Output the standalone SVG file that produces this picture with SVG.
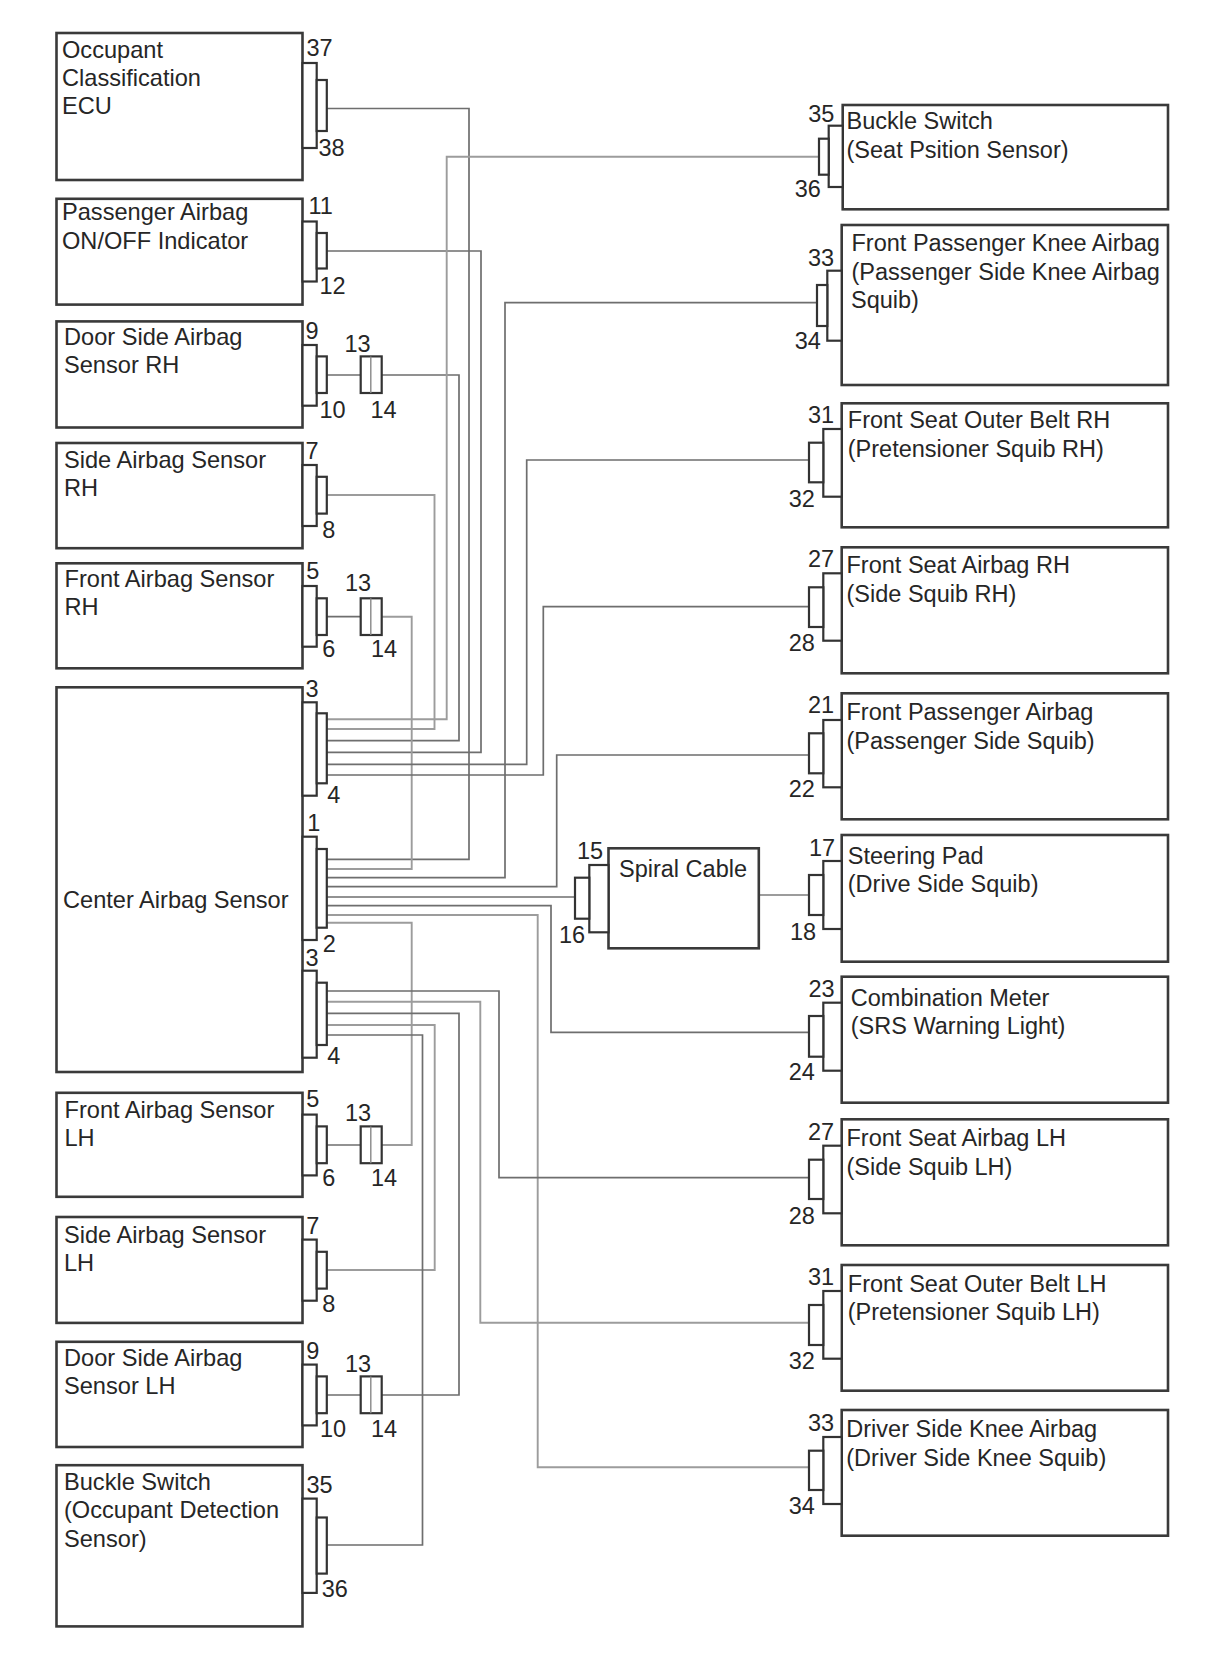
<svg xmlns="http://www.w3.org/2000/svg" width="1210" height="1668" viewBox="0 0 1210 1668">
<style>
.b{fill:#fff;stroke:#3a3a3a;stroke-width:2.6}
.c{fill:#fff;stroke:#333;stroke-width:2.2}
.m{fill:none;stroke:#888;stroke-width:1.4}
.w{fill:none;stroke:#6e6e6e;stroke-width:1.7}
.l{fill:none;stroke:#9c9c9c;stroke-width:1.9}
text{font-family:"Liberation Sans",Arial,sans-serif;fill:#262626}
.t{font-size:23.6px}
.r .t{font-size:23.5px}
.n{font-size:23.5px}
</style>
<rect width="1210" height="1668" fill="#fff"/>
<g id="connectors">
<polyline class="w" points="327,108.5 469,108.5 469,859.3 327,859.3"/>
<polyline class="w" points="327,251 481,251 481,752.3 327,752.3"/>
<polyline class="w" points="381.7,375 459,375 459,740.7 327,740.7"/>
<line class="w" x1="327" y1="375" x2="360.7" y2="375"/>
<polyline class="l" points="327,495 434.5,495 434.5,729 327,729"/>
<polyline class="l" points="381.7,616.7 411.7,616.7 411.7,869 327,869"/>
<line class="w" x1="327" y1="616.7" x2="360.7" y2="616.7"/>
<polyline class="l" points="819,156.7 446.7,156.7 446.7,719.3 327,719.3"/>
<polyline class="w" points="817,302.7 505,302.7 505,877.7 327,877.7"/>
<polyline class="w" points="809,460 526.7,460 526.7,764.3 327,764.3"/>
<polyline class="w" points="809,606.7 543.3,606.7 543.3,775 327,775"/>
<polyline class="w" points="809,755 556.7,755 556.7,886.7 327,886.7"/>
<line class="w" x1="327" y1="897" x2="575" y2="897"/>
<line class="l" x1="758.8" y1="895" x2="809" y2="895"/>
<polyline class="w" points="327,905.7 551,905.7 551,1032.3 809,1032.3"/>
<polyline class="l" points="327,915 537.7,915 537.7,1467.3 809,1467.3"/>
<polyline class="l" points="327,922.7 411.7,922.7 411.7,1145 381.7,1145"/>
<line class="w" x1="327" y1="1145" x2="360.7" y2="1145"/>
<polyline class="w" points="327,991 499,991 499,1177.7 809,1177.7"/>
<polyline class="l" points="327,1001.7 480.3,1001.7 480.3,1322.7 809,1322.7"/>
<polyline class="w" points="327,1013.3 459,1013.3 459,1395 381.7,1395"/>
<line class="w" x1="327" y1="1395" x2="360.7" y2="1395"/>
<polyline class="l" points="327,1025 434.7,1025 434.7,1270 327,1270"/>
<polyline class="w" points="327,1035 422.5,1035 422.5,1545 327,1545"/>
</g>
<g id="occupant-ecu">
<rect class="b" x="56.5" y="33" width="246" height="147"/>
<rect class="c" x="302.5" y="63" width="14.2" height="85"/>
<rect class="c" x="316.7" y="80" width="10.1" height="51"/>
<text class="t" x="62" y="57.5">Occupant</text><text class="t" x="62" y="85.7">Classification</text><text class="t" x="62" y="113.6">ECU</text>
<text class="n" x="306.5" y="55.7">37</text><text class="n" x="318.5" y="156.4">38</text>
</g>
<g id="passenger-indicator">
<rect class="b" x="56.5" y="198.8" width="246" height="105.8"/>
<rect class="c" x="302.5" y="221.5" width="14.2" height="60"/>
<rect class="c" x="316.7" y="233" width="10.1" height="35.5"/>
<text class="t" x="62" y="220.2">Passenger Airbag</text><text class="t" x="62" y="248.5">ON/OFF Indicator</text>
<text class="n" x="308.5" y="214">11</text><text class="n" x="319.5" y="293.6">12</text>
</g>
<g id="door-sensor-rh">
<rect class="b" x="56.5" y="321.4" width="246" height="106.1"/>
<rect class="c" x="302.5" y="345" width="14.2" height="60.7"/>
<rect class="c" x="316.7" y="356.4" width="10.1" height="36.6"/>
<rect class="c" x="360.7" y="356.4" width="21" height="36.6"/>
<line class="m" x1="370.8" y1="356.4" x2="370.8" y2="393"/>
<text class="t" x="64" y="344.6">Door Side Airbag</text><text class="t" x="64" y="372.5">Sensor RH</text>
<text class="n" x="305.5" y="339.3">9</text><text class="n" x="344.5" y="351.8">13</text><text class="n" x="319.5" y="417.9">10</text><text class="n" x="370.5" y="417.9">14</text>
</g>
<g id="side-sensor-rh">
<rect class="b" x="56.5" y="443" width="246" height="105.2"/>
<rect class="c" x="302.5" y="465" width="14.2" height="61"/>
<rect class="c" x="316.7" y="476.8" width="10.1" height="36.8"/>
<text class="t" x="64" y="467.9">Side Airbag Sensor</text><text class="t" x="64" y="495.7">RH</text>
<text class="n" x="305.5" y="459">7</text><text class="n" x="322.2" y="538">8</text>
</g>
<g id="front-sensor-rh">
<rect class="b" x="56.5" y="563.3" width="246" height="105"/>
<rect class="c" x="302.5" y="586" width="14.2" height="60.7"/>
<rect class="c" x="316.7" y="598.3" width="10.1" height="36.7"/>
<rect class="c" x="360.7" y="598.3" width="21" height="36.7"/>
<line class="m" x1="370.8" y1="598.3" x2="370.8" y2="635"/>
<text class="t" x="64.5" y="587.3">Front Airbag Sensor</text><text class="t" x="64.5" y="615.2">RH</text>
<text class="n" x="306.2" y="579.3">5</text><text class="n" x="345" y="591.2">13</text><text class="n" x="322.2" y="657.3">6</text><text class="n" x="371" y="657.3">14</text>
</g>
<g id="center-sensor">
<rect class="b" x="56.5" y="687.3" width="246" height="384.7"/>
<rect class="c" x="302.5" y="702.3" width="14.2" height="93.4"/>
<rect class="c" x="316.7" y="713.3" width="10.1" height="70"/>
<rect class="c" x="302.5" y="836.7" width="14.2" height="103.3"/>
<rect class="c" x="316.7" y="849" width="10.1" height="78.7"/>
<rect class="c" x="302.5" y="970.7" width="14.2" height="87"/>
<rect class="c" x="316.7" y="982.7" width="10.1" height="62.3"/>
<text class="t" x="63" y="908">Center Airbag Sensor</text>
<text class="n" x="305.5" y="697.3">3</text><text class="n" x="327.2" y="803.3">4</text><text class="n" x="307.2" y="830.7">1</text><text class="n" x="322.8" y="951.7">2</text><text class="n" x="305.5" y="966">3</text><text class="n" x="327.2" y="1064.3">4</text>
</g>
<g id="front-sensor-lh">
<rect class="b" x="56.5" y="1092.8" width="246" height="104"/>
<rect class="c" x="302.5" y="1114.6" width="14.2" height="60.8"/>
<rect class="c" x="316.7" y="1126.4" width="10.1" height="36.8"/>
<rect class="c" x="360.7" y="1126.4" width="21" height="36.8"/>
<line class="m" x1="370.8" y1="1126.4" x2="370.8" y2="1163.2"/>
<text class="t" x="64.5" y="1117.5">Front Airbag Sensor</text><text class="t" x="64.5" y="1145.5">LH</text>
<text class="n" x="306.2" y="1107.4">5</text><text class="n" x="345" y="1121.3">13</text><text class="n" x="322.2" y="1185.7">6</text><text class="n" x="371" y="1185.7">14</text>
</g>
<g id="side-sensor-lh">
<rect class="b" x="56.5" y="1217" width="246" height="105.9"/>
<rect class="c" x="302.5" y="1239.6" width="14.2" height="61.1"/>
<rect class="c" x="316.7" y="1251.8" width="10.1" height="36.8"/>
<text class="t" x="64" y="1242.9">Side Airbag Sensor</text><text class="t" x="64" y="1270.5">LH</text>
<text class="n" x="306.2" y="1234.3">7</text><text class="n" x="322.2" y="1312.4">8</text>
</g>
<g id="door-sensor-lh">
<rect class="b" x="56.5" y="1341.8" width="246" height="105.2"/>
<rect class="c" x="302.5" y="1364.6" width="14.2" height="60.8"/>
<rect class="c" x="316.7" y="1376.4" width="10.1" height="36.8"/>
<rect class="c" x="360.7" y="1376.4" width="21" height="36.8"/>
<line class="m" x1="370.8" y1="1376.4" x2="370.8" y2="1413.2"/>
<text class="t" x="64" y="1366.4">Door Side Airbag</text><text class="t" x="64" y="1394.3">Sensor LH</text>
<text class="n" x="306.2" y="1359.3">9</text><text class="n" x="345" y="1372.4">13</text><text class="n" x="320" y="1437">10</text><text class="n" x="371" y="1437">14</text>
</g>
<g id="buckle-switch-left">
<rect class="b" x="56.5" y="1465.2" width="246" height="161.2"/>
<rect class="c" x="302.5" y="1498.6" width="14.2" height="94.3"/>
<rect class="c" x="316.7" y="1517.5" width="10.1" height="56.1"/>
<text class="t" x="64" y="1490">Buckle Switch</text><text class="t" x="64" y="1518">(Occupant Detection</text><text class="t" x="64" y="1546.5">Sensor)</text>
<text class="n" x="306.5" y="1493.1">35</text><text class="n" x="321.7" y="1597">36</text>
</g>
<g id="spiral-cable" class="r">
<rect class="b" x="608.5" y="848.3" width="150.3" height="100"/>
<rect class="c" x="589.3" y="865" width="19.2" height="67.3"/>
<rect class="c" x="575" y="877.7" width="14.3" height="41"/>
<text class="t" x="619" y="876.7">Spiral Cable</text>
<text class="n" x="577" y="859">15</text><text class="n" x="559" y="942.7">16</text>
</g>
<g id="buckle-switch-right" class="r">
<rect class="b" x="842.7" y="105" width="325.3" height="104.3"/>
<rect class="c" x="828.7" y="125.7" width="14" height="61.3"/>
<rect class="c" x="819" y="138.7" width="9.7" height="36"/>
<text class="t" x="846.5" y="129.3">Buckle Switch</text><text class="t" x="846.5" y="158">(Seat Psition Sensor)</text>
<text class="n" x="808.3" y="121.7">35</text><text class="n" x="794.7" y="196.7">36</text>
</g>
<g id="passenger-knee" class="r">
<rect class="b" x="841.7" y="225" width="326.3" height="160"/>
<rect class="c" x="827.3" y="270.7" width="14.4" height="70"/>
<rect class="c" x="817" y="285" width="10.3" height="41"/>
<text class="t" x="851.5" y="251">Front Passenger Knee Airbag</text><text class="t" x="851.5" y="279.5">(Passenger Side Knee Airbag</text><text class="t" x="851" y="307.8">Squib)</text>
<text class="n" x="808" y="265.7">33</text><text class="n" x="794.7" y="349.3">34</text>
</g>
<g id="belt-rh" class="r">
<rect class="b" x="841.7" y="403.3" width="326.3" height="124"/>
<rect class="c" x="823.3" y="429" width="18.4" height="67.7"/>
<rect class="c" x="809" y="442.7" width="14.3" height="39.6"/>
<text class="t" x="847.8" y="428.3">Front Seat Outer Belt RH</text><text class="t" x="847.8" y="457">(Pretensioner Squib RH)</text>
<text class="n" x="808" y="423.3">31</text><text class="n" x="788.7" y="506.7">32</text>
</g>
<g id="seat-airbag-rh" class="r">
<rect class="b" x="841.7" y="547.3" width="326.3" height="126"/>
<rect class="c" x="823.3" y="573.3" width="18.4" height="67.4"/>
<rect class="c" x="809" y="587.3" width="14.3" height="39.7"/>
<text class="t" x="846.5" y="573.3">Front Seat Airbag RH</text><text class="t" x="846.5" y="602">(Side Squib RH)</text>
<text class="n" x="808" y="567.3">27</text><text class="n" x="788.7" y="651.3">28</text>
</g>
<g id="passenger-airbag" class="r">
<rect class="b" x="841.7" y="693.3" width="326.3" height="126"/>
<rect class="c" x="823.3" y="720" width="18.4" height="67.3"/>
<rect class="c" x="809" y="733.3" width="14.3" height="40"/>
<text class="t" x="846.5" y="720">Front Passenger Airbag</text><text class="t" x="846.5" y="748.5">(Passenger Side Squib)</text>
<text class="n" x="808" y="713.3">21</text><text class="n" x="788.7" y="797.3">22</text>
</g>
<g id="steering-pad" class="r">
<rect class="b" x="841.7" y="835" width="326.3" height="126.7"/>
<rect class="c" x="823.3" y="861" width="18.4" height="68"/>
<rect class="c" x="809" y="875" width="14.3" height="40"/>
<text class="t" x="847.8" y="864">Steering Pad</text><text class="t" x="847.8" y="892">(Drive Side Squib)</text>
<text class="n" x="809" y="856">17</text><text class="n" x="790" y="939.5">18</text>
</g>
<g id="combination-meter" class="r">
<rect class="b" x="841.7" y="976.7" width="326.3" height="126"/>
<rect class="c" x="823.3" y="1002.7" width="18.4" height="68"/>
<rect class="c" x="809" y="1016" width="14.3" height="40.7"/>
<text class="t" x="850.8" y="1006">Combination Meter</text><text class="t" x="850.8" y="1034">(SRS Warning Light)</text>
<text class="n" x="808.5" y="996.7">23</text><text class="n" x="788.7" y="1079.5">24</text>
</g>
<g id="seat-airbag-lh" class="r">
<rect class="b" x="841.7" y="1119.3" width="326.3" height="126"/>
<rect class="c" x="823.3" y="1145.7" width="18.4" height="67.6"/>
<rect class="c" x="809" y="1159.7" width="14.3" height="39.3"/>
<text class="t" x="846.5" y="1146.2">Front Seat Airbag LH</text><text class="t" x="846.5" y="1174.8">(Side Squib LH)</text>
<text class="n" x="808" y="1140">27</text><text class="n" x="788.7" y="1223.5">28</text>
</g>
<g id="belt-lh" class="r">
<rect class="b" x="841.7" y="1265" width="326.3" height="125.7"/>
<rect class="c" x="823.3" y="1291" width="18.4" height="67.7"/>
<rect class="c" x="809" y="1305" width="14.3" height="40"/>
<text class="t" x="847.8" y="1291.7">Front Seat Outer Belt LH</text><text class="t" x="847.8" y="1320">(Pretensioner Squib LH)</text>
<text class="n" x="808" y="1285.3">31</text><text class="n" x="788.7" y="1369.3">32</text>
</g>
<g id="driver-knee" class="r">
<rect class="b" x="841.7" y="1410" width="326.3" height="125.7"/>
<rect class="c" x="823.3" y="1437" width="18.4" height="67"/>
<rect class="c" x="809" y="1450.7" width="14.3" height="39.3"/>
<text class="t" x="846.3" y="1437.3">Driver Side Knee Airbag</text><text class="t" x="846.3" y="1466">(Driver Side Knee Squib)</text>
<text class="n" x="808" y="1430.7">33</text><text class="n" x="788.7" y="1514">34</text>
</g>
</svg>
